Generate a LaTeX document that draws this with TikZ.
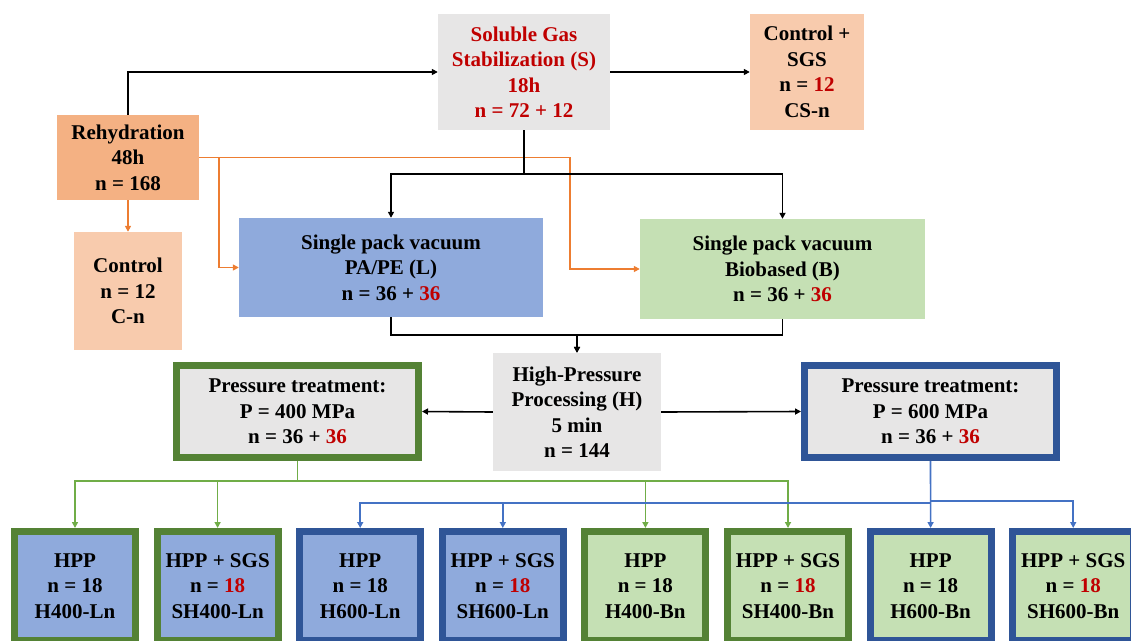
\documentclass[tikz,border=0pt]{standalone}
\usepackage{fontspec}
\setmainfont{Liberation Serif}
\usepackage{xcolor}
\definecolor{orangeFill}{HTML}{F4B183}
\definecolor{peachFill}{HTML}{F8CBAD}
\definecolor{grayFill}{HTML}{E7E6E6}
\definecolor{blueFill}{HTML}{8FAADC}
\definecolor{greenFill}{HTML}{C5E0B4}
\definecolor{greenEdge}{HTML}{548235}
\definecolor{blueEdge}{HTML}{2F5597}
\definecolor{orangeLine}{HTML}{ED7D31}
\definecolor{greenLine}{HTML}{70AD47}
\definecolor{blueLine}{HTML}{4472C4}
\definecolor{accentRed}{HTML}{C00000}
\usepackage{tikz}
\usetikzlibrary{
    arrows.meta,
    positioning
}
\tikzset{
    % Base style for all boxes
    stage/.style={
        font=\bfseries\fontsize{21}{25.5}\selectfont,
        align=center,
        text=black,
        inner sep=0pt,
    },
    % Filled boxes without frame
    plainbox/.style={
        stage,
        rectangle,
    },
    % Pressure boxes with a thick frame
    framebox/.style={
        stage,
        rectangle,
        line width=7pt,
    },
    % Small result boxes at the bottom
    result/.style={
        framebox,
        minimum width=121pt,
        minimum height=109pt,
    },
    % Arrow styles
    arrow/.style={
        -{Triangle[length=6pt, width=6pt]},
        line width=1.6pt,
        draw=black,
    },
    orange arrow/.style={
        arrow,
        draw=orangeLine,
        -{Triangle[length=6pt, width=6pt, fill=orangeLine]},
    },
    green arrow/.style={
        arrow,
        draw=greenLine,
        -{Triangle[length=6pt, width=6pt, fill=greenLine]},
    },
    blue arrow/.style={
        arrow,
        draw=blueLine,
        -{Triangle[length=6pt, width=6pt, fill=blueLine]},
    },
}

\begin{document}
\begin{tikzpicture}[x=1pt, y=-1pt]
    \useasboundingbox (0,0) rectangle (1131,640);
    \clip (0,0) rectangle (1131,640);

    % Upper part
    \node (rehyd) [plainbox, fill=orangeFill, minimum width=142pt, minimum height=85pt] at (128,157.5) {Rehydration\\48h\\n = 168};
    \node (ctrl) [plainbox, fill=peachFill, minimum width=108pt, minimum height=118pt] at (128,291) {Control\\n = 12\\C-n};
    \node (sgs) [plainbox, fill=grayFill, text=accentRed, minimum width=172pt, minimum height=116pt] at (524,72) {Soluble Gas\\Stabilization (S)\\18h\\n = 72 + 12};
    \node (ctrlsgs) [plainbox, fill=peachFill, minimum width=114pt, minimum height=116pt] at (807,72) {Control +\\SGS\\n = \textcolor{accentRed}{12}\\CS-n};
    \node (packL) [plainbox, fill=blueFill, minimum width=304pt, minimum height=99pt] at (391,267.5) {Single pack vacuum\\PA/PE (L)\\n = 36 + \textcolor{accentRed}{36}};
    \node (packB) [plainbox, fill=greenFill, minimum width=285pt, minimum height=100pt] at (782.5,269) {Single pack vacuum\\Biobased (B)\\n = 36 + \textcolor{accentRed}{36}};
    \node (hpp) [plainbox, fill=grayFill, minimum width=168pt, minimum height=118pt] at (577,412) {High-Pressure\\Processing (H)\\5 min\\n = 144};
    \node (pt400) [framebox, draw=greenEdge, fill=grayFill, minimum width=242pt, minimum height=92pt] at (297.5,411.5) {Pressure treatment:\\P = 400 MPa\\n = 36 + \textcolor{accentRed}{36}};
    \node (pt600) [framebox, draw=blueEdge, fill=grayFill, minimum width=252pt, minimum height=92pt] at (930.5,411.5) {Pressure treatment:\\P = 600 MPa\\n = 36 + \textcolor{accentRed}{36}};

    % Result boxes
    \node (h400L) [result, draw=greenEdge, fill=blueFill] at (75,586) {HPP\\n = 18\\H400-Ln};
    \node (sh400L) [result, draw=greenEdge, fill=blueFill] at (217.6,586) {HPP + SGS\\n = \textcolor{accentRed}{18}\\SH400-Ln};
    \node (h600L) [result, draw=blueEdge, fill=blueFill] at (360.2,586) {HPP\\n = 18\\H600-Ln};
    \node (sh600L) [result, draw=blueEdge, fill=blueFill] at (502.8,586) {HPP + SGS\\n = \textcolor{accentRed}{18}\\SH600-Ln};
    \node (h400B) [result, draw=greenEdge, fill=greenFill] at (645.4,586) {HPP\\n = 18\\H400-Bn};
    \node (sh400B) [result, draw=greenEdge, fill=greenFill] at (788,586) {HPP + SGS\\n = \textcolor{accentRed}{18}\\SH400-Bn};
    \node (h600B) [result, draw=blueEdge, fill=greenFill] at (930.6,586) {HPP\\n = 18\\H600-Bn};
    \node (sh600B) [result, draw=blueEdge, fill=greenFill] at (1073.2,586) {HPP + SGS\\n = \textcolor{accentRed}{18}\\SH600-Bn};

    \draw [arrow] (rehyd.north) |- (sgs.west);
    \draw [arrow] (sgs.east) -- (ctrlsgs.west);
    \draw [orange arrow] (rehyd.south) -- (ctrl.north);
    \draw [orange arrow] (rehyd.east) -- ++(20,0) |- (packL.west);
    \draw [orange arrow] (rehyd.east) -- ++(371,0) |- (packB.west);
    \draw [arrow] (sgs.south) -- ++(0,44) -| (packL.north);
    \draw [arrow] (sgs.south) -- ++(0,44) -| (packB.north);
    \draw [arrow] (packL.south) -- ++(0,17.5) -| (hpp.north);
    \draw [arrow] (packB.south) -- ++(0,16) -| (hpp.north);
    \draw [arrow] (hpp.west) -- (pt400.east);
    \draw [arrow] (hpp.east) -- (pt600.west);

    \draw [green arrow] (pt400.south) -- ++(0,20) -| (h400L.north);
    \draw [green arrow] (pt400.south) -- ++(0,20) -| (sh400L.north);
    \draw [green arrow] (pt400.south) -- ++(0,20) -| (h400B.north);
    \draw [green arrow] (pt400.south) -- ++(0,20) -| (sh400B.north);
    \draw [blue arrow] (pt600.south) -- ++(0,42) -| (h600L.north);
    \draw [blue arrow] (pt600.south) -- ++(0,42) -| (sh600L.north);
    \draw [blue arrow] (pt600.south) -- (h600B.north);
    \draw [blue arrow] (pt600.south) -- ++(0,40) -| (sh600B.north);
\end{tikzpicture}
\end{document}
